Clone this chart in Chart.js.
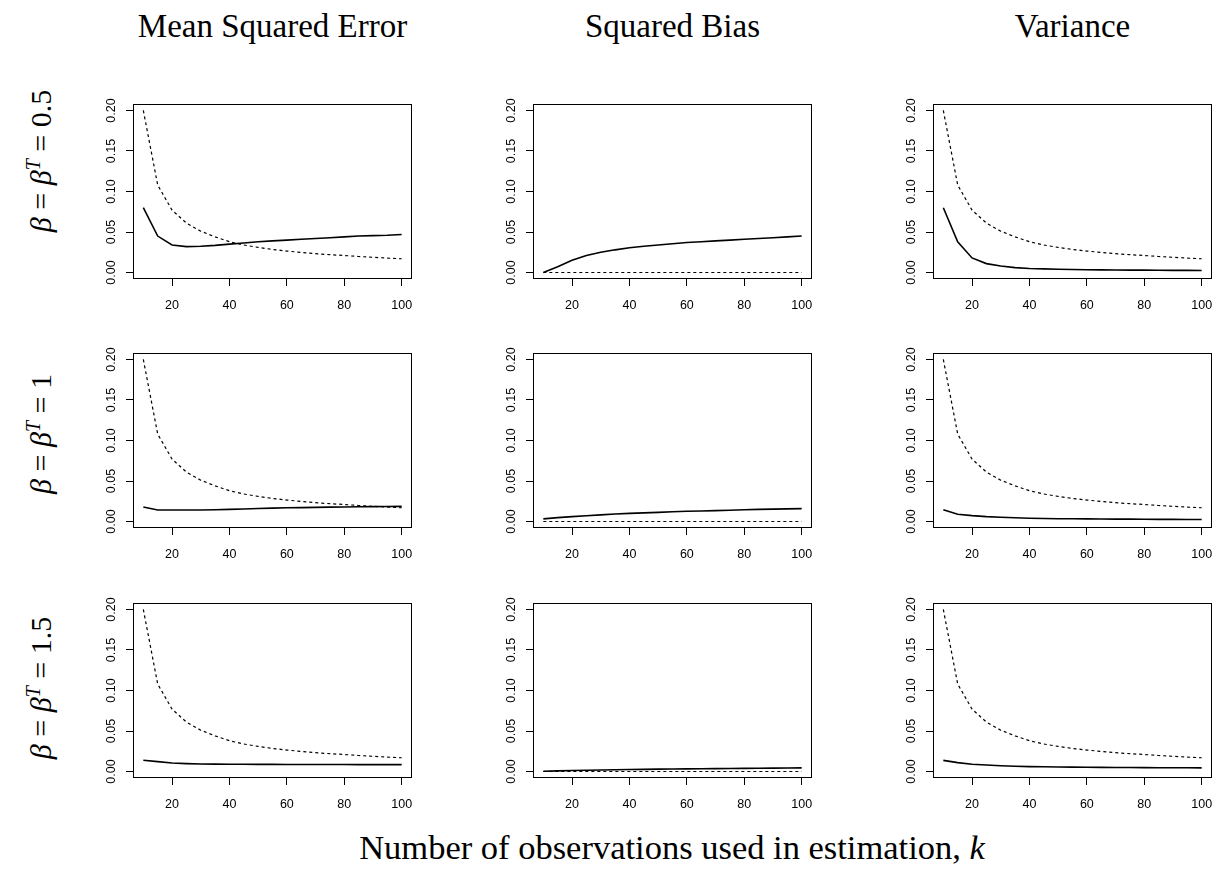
<!DOCTYPE html>
<html>
<head>
<meta charset="utf-8">
<script src="https://cdn.jsdelivr.net/npm/chart.js@4/dist/chart.umd.min.js"></script>
<style>
  html, body { margin: 0; padding: 0; background: #fff; }
  body { width: 1214px; height: 890px; position: relative; overflow: hidden; }
  .panel { position: absolute; width: 341px; height: 225px; }
  .txt { position: absolute; font-family: 'Liberation Serif', 'DejaVu Serif', serif; color: #000; white-space: nowrap; line-height: 1.15; }
  .col { top: 8px; font-size: 33px; transform: translateX(-50%); }
  .row { left: 40px; font-size: 30px; transform: translate(-50%, -50%) rotate(-90deg); }
  .row i, .xlab i { font-style: italic; }
  .row sup { font-size: 20px; font-style: italic; }
  .xlab { top: 828px; left: 672px; font-size: 34.5px; transform: translateX(-50%); }
</style>
</head>
<body>
<div id="wrap"></div>
<script>
  /* x values (k) and axis ticks */
  var k = [10, 15, 20, 25, 30, 35, 40, 45, 50, 55, 60, 65, 70, 75, 80, 85, 90, 95, 100];
  var xTicks = [20, 40, 60, 80, 100];
  var yTicks = [0, 0.05, 0.10, 0.15, 0.20];

  var colTitles = ['Mean Squared Error', 'Squared Bias', 'Variance'];
  var rowLabels = ['0.5', '1', '1.5'];

  /* dashed benchmark curve (same in MSE and variance panels), zero for bias */
  var benchmark = [0.200, 0.108, 0.077, 0.061, 0.051, 0.044, 0.038, 0.034, 0.031, 0.0285, 0.0265, 0.0248, 0.0233, 0.022, 0.021, 0.0198, 0.0188, 0.0178, 0.017];
  var benchBias = [0, 0, 0, 0, 0, 0, 0, 0, 0, 0, 0, 0, 0, 0, 0, 0, 0, 0, 0];

  /* beta = 0.5 */
  var mse1 = [0.080, 0.045, 0.034, 0.032, 0.0325, 0.0335, 0.035, 0.0365, 0.038, 0.039, 0.040, 0.041, 0.042, 0.043, 0.044, 0.045, 0.0455, 0.046, 0.047];
  var bias1 = [0.000, 0.007, 0.015, 0.021, 0.025, 0.028, 0.0305, 0.0325, 0.034, 0.0355, 0.037, 0.038, 0.039, 0.040, 0.041, 0.042, 0.043, 0.044, 0.045];
  var var1 = [0.080, 0.038, 0.018, 0.011, 0.008, 0.006, 0.005, 0.0045, 0.004, 0.0037, 0.0035, 0.0033, 0.0031, 0.003, 0.0029, 0.0028, 0.0027, 0.0026, 0.0025];

  /* beta = 1 */
  var mse2 = [0.018, 0.0142, 0.0142, 0.0142, 0.0143, 0.0145, 0.015, 0.0155, 0.016, 0.0165, 0.017, 0.0172, 0.0175, 0.0178, 0.018, 0.0182, 0.0184, 0.0186, 0.0187];
  var bias2 = [0.0033, 0.0048, 0.006, 0.0072, 0.0082, 0.0092, 0.010, 0.0107, 0.0113, 0.012, 0.0126, 0.013, 0.0135, 0.014, 0.0146, 0.015, 0.0153, 0.0156, 0.0159];
  var var2 = [0.0146, 0.009, 0.0073, 0.006, 0.0052, 0.0046, 0.004, 0.0037, 0.0035, 0.0034, 0.0033, 0.0031, 0.003, 0.0029, 0.0028, 0.0027, 0.0026, 0.0025, 0.0024];

  /* beta = 1.5 */
  var mse3 = [0.014, 0.0122, 0.0106, 0.0098, 0.0093, 0.0091, 0.009, 0.0089, 0.0088, 0.0088, 0.0087, 0.0087, 0.0086, 0.0086, 0.0086, 0.0085, 0.0085, 0.0085, 0.0085];
  var bias3 = [0.0004, 0.0008, 0.0012, 0.0016, 0.0019, 0.0022, 0.0025, 0.0027, 0.0029, 0.0031, 0.0033, 0.0035, 0.0036, 0.0038, 0.0039, 0.0041, 0.0042, 0.0044, 0.0045];
  var var3 = [0.0138, 0.011, 0.009, 0.008, 0.0072, 0.0065, 0.006, 0.0058, 0.0056, 0.0054, 0.0053, 0.0051, 0.005, 0.0049, 0.0048, 0.0047, 0.0046, 0.0046, 0.0045];

  var solid = [[mse1, bias1, var1], [mse2, bias2, var2], [mse3, bias3, var3]];
  var dashed = [benchmark, benchBias, benchmark];

  var wrap = document.getElementById('wrap');
  var boxLeft = [133, 533, 933];
  var boxTop = [104, 353, 603];
  var rowLabelY = [161, 434, 688];
  var tickFont = { family: "'Liberation Sans', Arial, sans-serif", size: 12.5 };

  function pts(vals) {
    return vals.map(function(v, i) { return { x: k[i], y: v }; });
  }

  var boxPlugin = {
    id: 'box',
    afterDraw: function(chart) {
      var a = chart.chartArea, ctx = chart.ctx;
      ctx.save();
      ctx.strokeStyle = '#000';
      ctx.lineWidth = 1;
      ctx.strokeRect(a.left + 0.5, a.top + 0.5, a.right - a.left - 1, a.bottom - a.top - 1);
      ctx.restore();
    }
  };

  colTitles.forEach(function(t, c) {
    var d = document.createElement('div');
    d.className = 'txt col';
    d.style.left = (boxLeft[c] + 139.5) + 'px';
    d.textContent = t;
    document.body.appendChild(d);
  });

  rowLabels.forEach(function(t, r) {
    var d = document.createElement('div');
    d.className = 'txt row';
    d.style.top = rowLabelY[r] + 'px';
    d.innerHTML = '<i>&beta;</i> = <i>&beta;</i><sup>T</sup> = ' + t;
    document.body.appendChild(d);
  });

  var xl = document.createElement('div');
  xl.className = 'txt xlab';
  xl.innerHTML = 'Number of observations used in estimation, <i>k</i>';
  document.body.appendChild(xl);

  for (var r = 0; r < 3; r++) {
    for (var c = 0; c < 3; c++) {
      var div = document.createElement('div');
      div.className = 'panel';
      div.style.left = (boxLeft[c] - 60) + 'px';
      div.style.top = (boxTop[r] - 10) + 'px';
      var cv = document.createElement('canvas');
      div.appendChild(cv);
      wrap.appendChild(div);

      new Chart(cv, {
        type: 'line',
        data: {
          datasets: [{
            data: pts(dashed[c]),
            borderColor: '#000',
            borderWidth: 1.2,
            borderDash: [3, 3],
            pointRadius: 0,
            tension: 0
          }, {
            data: pts(solid[r][c]),
            borderColor: '#000',
            borderWidth: 1.6,
            pointRadius: 0,
            tension: 0
          }]
        },
        options: {
          responsive: true,
          maintainAspectRatio: false,
          animation: false,
          events: [],
          layout: { padding: { top: 10, right: 2, left: 0, bottom: 0 } },
          plugins: { legend: { display: false }, tooltip: { enabled: false } },
          scales: {
            x: {
              type: 'linear',
              min: 6.4,
              max: 103.6,
              afterBuildTicks: function(s) { s.ticks = xTicks.map(function(v) { return { value: v }; }); },
              afterFit: function(s) { s.height = 40; s.paddingLeft = 0; s.paddingRight = 0; },
              border: { display: false },
              grid: { drawOnChartArea: false, drawTicks: true, tickLength: 7, color: '#000' },
              ticks: { font: tickFont, color: '#000', padding: 12, maxRotation: 0, autoSkip: false,
                callback: function(v) { return String(v); } }
            },
            y: {
              min: -0.008,
              max: 0.208,
              afterBuildTicks: function(s) { s.ticks = yTicks.map(function(v) { return { value: v }; }); },
              afterFit: function(s) { s.width = 60; s.paddingTop = 0; s.paddingBottom = 0; },
              border: { display: false },
              grid: { drawOnChartArea: false, drawTicks: true, tickLength: 7, color: '#000' },
              ticks: { font: tickFont, color: '#000', padding: 2, minRotation: 90, maxRotation: 90,
                crossAlign: 'center', autoSkip: false,
                callback: function(v) { return v.toFixed(2); } }
            }
          }
        },
        plugins: [boxPlugin]
      });
    }
  }
</script>
</body>
</html>
